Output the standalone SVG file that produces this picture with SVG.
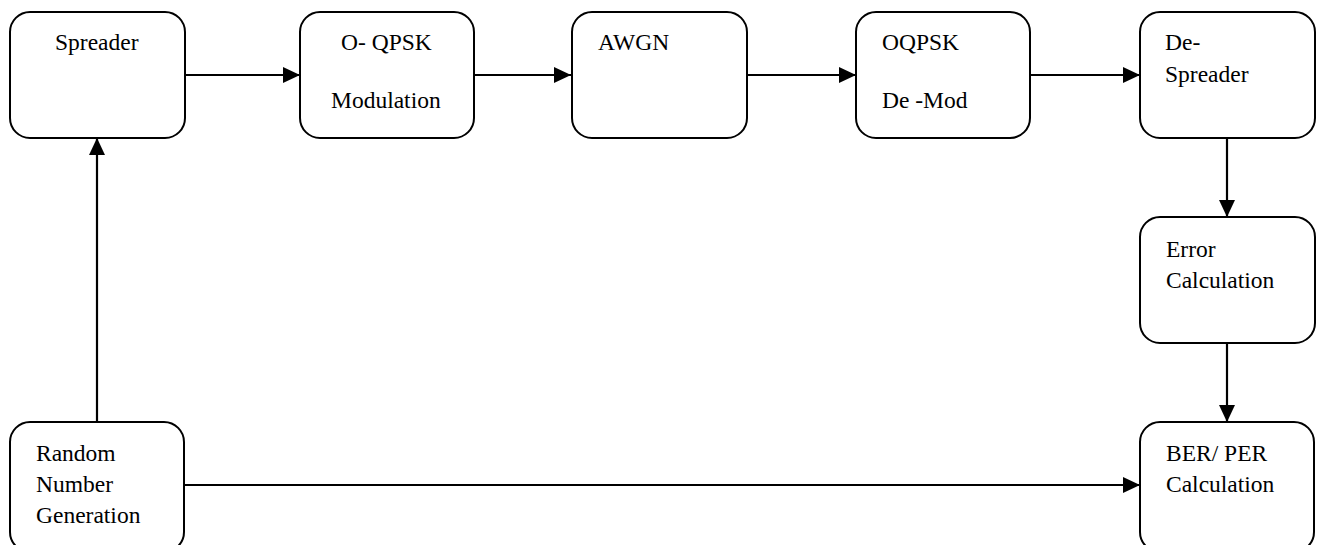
<svg xmlns="http://www.w3.org/2000/svg" width="1322" height="545" viewBox="0 0 1322 545">
  <style>
    .box { fill: #ffffff; stroke: #000000; stroke-width: 2; }
    .lbl { font-size: 23.5px; fill: #000000; }
    .link { fill: none; stroke: #000000; stroke-width: 2.2; }
  </style>
  <defs>
    <marker id="arrow" markerUnits="userSpaceOnUse" markerWidth="18" markerHeight="16" refX="17" refY="8" orient="auto">
      <path d="M0,0 L17,8 L0,16 Z" fill="#000000"/>
    </marker>
  </defs>

  <rect width="1322" height="545" fill="#ffffff"/>

  <!-- connectors -->
  <g id="connectors">
    <line class="link" x1="185" y1="75" x2="300" y2="75" marker-end="url(#arrow)"/>
    <line class="link" x1="474" y1="75" x2="571" y2="75" marker-end="url(#arrow)"/>
    <line class="link" x1="747" y1="75" x2="856" y2="75" marker-end="url(#arrow)"/>
    <line class="link" x1="1030" y1="75" x2="1140" y2="75" marker-end="url(#arrow)"/>
    <line class="link" x1="1227" y1="138" x2="1227" y2="217" marker-end="url(#arrow)"/>
    <line class="link" x1="1227" y1="343" x2="1227" y2="422" marker-end="url(#arrow)"/>
    <line class="link" x1="97" y1="422" x2="97" y2="138" marker-end="url(#arrow)"/>
    <line class="link" x1="185" y1="485" x2="1140" y2="485" marker-end="url(#arrow)"/>
  </g>

  <!-- processing blocks -->
  <g font-family="'Liberation Serif', 'DejaVu Serif', 'Times New Roman', serif">
    <g id="spreader">
      <rect class="box" x="10" y="12" width="175" height="126" rx="20" ry="20"/>
      <text class="lbl" x="55" y="50">Spreader</text>
    </g>
    <g id="oqpsk-mod">
      <rect class="box" x="300" y="12" width="174" height="126" rx="20" ry="20"/>
      <text class="lbl" x="341" y="50">O- QPSK</text>
      <text class="lbl" x="331" y="108">Modulation</text>
    </g>
    <g id="awgn">
      <rect class="box" x="572" y="12" width="175" height="126" rx="20" ry="20"/>
      <text class="lbl" x="598" y="50">AWGN</text>
    </g>
    <g id="oqpsk-demod">
      <rect class="box" x="856" y="12" width="174" height="126" rx="20" ry="20"/>
      <text class="lbl" x="882" y="50">OQPSK</text>
      <text class="lbl" x="882" y="108">De -Mod</text>
    </g>
    <g id="de-spreader">
      <rect class="box" x="1140" y="12" width="175" height="126" rx="20" ry="20"/>
      <text class="lbl" x="1165" y="50">De-</text>
      <text class="lbl" x="1165" y="82">Spreader</text>
    </g>
    <g id="error-calc">
      <rect class="box" x="1140" y="217" width="175" height="126" rx="20" ry="20"/>
      <text class="lbl" x="1166" y="257">Error</text>
      <text class="lbl" x="1166" y="288">Calculation</text>
    </g>
    <g id="ber-per">
      <rect class="box" x="1140" y="422" width="174" height="130" rx="20" ry="20"/>
      <text class="lbl" x="1166" y="461">BER/ PER</text>
      <text class="lbl" x="1166" y="492">Calculation</text>
    </g>
    <g id="random-gen">
      <rect class="box" x="10" y="422" width="174" height="130" rx="20" ry="20"/>
      <text class="lbl" x="36" y="461">Random</text>
      <text class="lbl" x="36" y="492">Number</text>
      <text class="lbl" x="36" y="523">Generation</text>
    </g>
  </g>
</svg>
